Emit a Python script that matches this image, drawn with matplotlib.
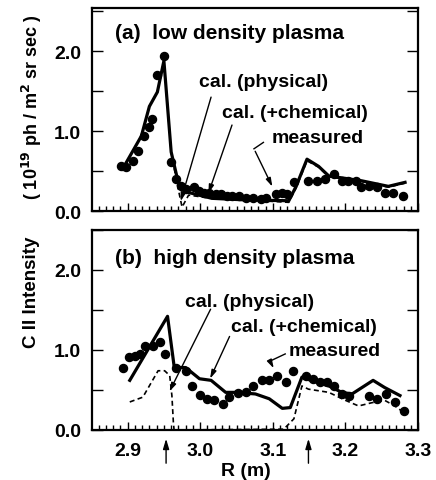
import matplotlib.pyplot as plt
from matplotlib.ticker import MultipleLocator

plt.rcParams['font.family'] = ['Liberation Sans', 'DejaVu Sans']
plt.rcParams['font.weight'] = 'bold'

# (a) low density plasma
a_chem_r = [2.893, 2.919, 2.930, 2.941, 2.950, 2.960, 2.971, 2.981, 3.016, 3.063,
            3.122, 3.132, 3.147, 3.163, 3.177, 3.222, 3.259, 3.282]
a_chem_i = [0.525, 0.94, 1.31, 1.49, 1.88, 0.74, 0.31, 0.24, 0.16, 0.14,
            0.13, 0.31, 0.65, 0.56, 0.44, 0.38, 0.31, 0.36]
a_phys_r = [2.893, 2.919, 2.930, 2.941, 2.950, 2.960, 2.968, 2.975, 2.984, 3.016,
            3.063, 3.122, 3.132, 3.147, 3.163, 3.177, 3.222, 3.259, 3.282]
a_phys_i = [0.525, 0.94, 1.31, 1.49, 1.88, 0.74, 0.35, 0.05, 0.20, 0.16,
            0.14, 0.11, 0.29, 0.63, 0.55, 0.43, 0.37, 0.30, 0.35]
a_meas_r = [2.891, 2.898, 2.907, 2.915, 2.922, 2.929, 2.934, 2.940, 2.950, 2.960,
            2.967, 2.974, 2.980, 2.992, 2.999, 3.005, 3.012, 3.022, 3.028, 3.037,
            3.044, 3.053, 3.063, 3.072, 3.083, 3.090, 3.104, 3.113, 3.120, 3.129,
            3.149, 3.161, 3.172, 3.184, 3.195, 3.204, 3.215, 3.222, 3.232, 3.243,
            3.254, 3.266, 3.279]
a_meas_i = [0.567, 0.546, 0.629, 0.754, 0.94, 1.05, 1.15, 1.70, 1.94, 0.61,
            0.40, 0.32, 0.275, 0.30, 0.25, 0.23, 0.23, 0.21, 0.21, 0.19,
            0.19, 0.19, 0.17, 0.17, 0.15, 0.16, 0.21, 0.23, 0.21, 0.36,
            0.38, 0.38, 0.40, 0.46, 0.38, 0.38, 0.38, 0.30, 0.32, 0.30,
            0.23, 0.23, 0.19]

# (b) high density plasma
b_chem_r = [2.903, 2.955, 2.964, 2.971, 2.980, 2.999, 3.015, 3.035, 3.049, 3.076,
            3.095, 3.113, 3.124, 3.140, 3.149, 3.177, 3.195, 3.209, 3.238, 3.254, 3.275]
b_chem_i = [0.62, 1.42, 0.80, 0.78, 0.78, 0.64, 0.62, 0.47, 0.47, 0.45,
            0.39, 0.27, 0.28, 0.66, 0.63, 0.55, 0.47, 0.45, 0.62, 0.53, 0.43]
b_phys_r = [2.903, 2.921, 2.942, 2.951, 2.958, 2.961, 2.963, 2.964, 3.115, 3.129,
            3.140, 3.149, 3.177, 3.200, 3.218, 3.236, 3.254, 3.268, 3.277]
b_phys_i = [0.35, 0.41, 0.74, 0.74, 0.68, 0.43, 0.10, 0.0, 0.01, 0.14,
            0.55, 0.51, 0.47, 0.37, 0.30, 0.34, 0.37, 0.30, 0.24]
b_meas_r = [2.893, 2.902, 2.910, 2.917, 2.924, 2.935, 2.944, 2.952, 2.967, 2.980,
            2.989, 3.000, 3.010, 3.019, 3.031, 3.040, 3.052, 3.063, 3.073, 3.085,
            3.095, 3.106, 3.118, 3.128, 3.145, 3.155, 3.165, 3.174, 3.184, 3.195,
            3.205, 3.232, 3.243, 3.256, 3.268, 3.281]
b_meas_i = [0.77, 0.91, 0.93, 0.95, 1.05, 1.05, 1.10, 0.95, 0.78, 0.74,
            0.55, 0.44, 0.39, 0.375, 0.325, 0.41, 0.46, 0.47, 0.55, 0.62,
            0.62, 0.68, 0.60, 0.74, 0.68, 0.64, 0.60, 0.60, 0.55, 0.45,
            0.43, 0.43, 0.39, 0.45, 0.35, 0.24]

# marker arrows under the R axis
arrow_r = [2.953, 3.149]

fig = plt.figure(figsize=(4.36, 4.81), dpi=100)
ax1 = fig.add_axes([0.211, 0.559, 0.748, 0.422])
ax2 = fig.add_axes([0.211, 0.104, 0.748, 0.416])

fs = 14
panels = [
    (ax1, a_chem_r, a_chem_i, a_phys_r, a_phys_i, a_meas_r, a_meas_i, 2.54),
    (ax2, b_chem_r, b_chem_i, b_phys_r, b_phys_i, b_meas_r, b_meas_i, 2.5),
]
for ax, cr, ci, pr, pi, mr, mi, ytop in panels:
    ax.plot(pr, pi, color='black', lw=1.2, ls=(0, (3, 2)))
    ax.plot(cr, ci, color='black', lw=2.3)
    ax.plot(mr, mi, 'o', color='black', ms=5.8)
    ax.set_xlim(2.851, 3.3)
    ax.set_ylim(0, ytop)
    ax.xaxis.set_major_locator(MultipleLocator(0.1))
    ax.xaxis.set_minor_locator(MultipleLocator(0.01))
    ax.yaxis.set_major_locator(MultipleLocator(1.0))
    ax.yaxis.set_minor_locator(MultipleLocator(0.5))
    ax.tick_params(axis='y', which='both', direction='in', left=True, right=True,
                   length=8, width=1, labelsize=fs, pad=8)
    ax.tick_params(axis='x', which='major', direction='in', length=6, width=1,
                   labelsize=fs, pad=9)
    ax.tick_params(axis='x', which='minor', direction='in', length=3.5, width=1)
    ax.yaxis.set_major_formatter(lambda v, p: f'{v:.1f}')
    for sp in ax.spines.values():
        sp.set_linewidth(1.6)

ax1.tick_params(axis='x', labelbottom=False)

# panel (a) labels
ax1.text(2.883, 2.24, '(a)  low density plasma', fontsize=15, va='center')
ax1.text(2.998, 1.625, 'cal. (physical)', fontsize=14, va='center')
ax1.text(3.030, 1.24, 'cal. (+chemical)', fontsize=14, va='center')
ax1.text(3.098, 0.925, 'measured', fontsize=14, va='center')
arw = dict(arrowstyle='-|>,head_length=0.5,head_width=0.15', color='black', lw=1)
ax1.annotate('', xy=(2.972, 0.09), xytext=(3.016, 1.46), arrowprops=arw)
ax1.annotate('', xy=(3.010, 0.19), xytext=(3.045, 1.11), arrowprops=arw)
ax1.plot([3.087, 3.074], [0.86, 0.78], color='black', lw=1)
ax1.annotate('', xy=(3.101, 0.275), xytext=(3.074, 0.78), arrowprops=arw)

# panel (b) labels
ax2.text(2.883, 2.16, '(b)  high density plasma', fontsize=15, va='center')
ax2.text(2.979, 1.61, 'cal. (physical)', fontsize=14, va='center')
ax2.text(3.042, 1.29, 'cal. (+chemical)', fontsize=14, va='center')
ax2.text(3.122, 0.99, 'measured', fontsize=14, va='center')
ax2.annotate('', xy=(2.956, 0.45), xytext=(3.016, 1.54), arrowprops=arw)
ax2.annotate('', xy=(3.012, 0.61), xytext=(3.042, 1.20), arrowprops=arw)
ax2.plot([3.117, 3.096], [0.95, 0.86], color='black', lw=1)
ax2.annotate('', xy=(3.103, 0.74), xytext=(3.096, 0.86), arrowprops=arw)

for r in arrow_r:
    ax2.annotate('', xy=(r, -0.03), xytext=(r, -0.18),
                 xycoords=('data', 'axes fraction'),
                 textcoords=('data', 'axes fraction'),
                 arrowprops=dict(arrowstyle='-|>,head_length=0.6,head_width=0.18',
                                 color='black', lw=1), annotation_clip=False)

fig.text(0.564, 0.019, 'R (m)', fontsize=fs, ha='center', va='center')
fig.text(0.073, 0.778, '( 10$^{\\mathbf{19}}$ ph / m$^{\\mathbf{2}}$ sr sec )',
         fontsize=13, rotation=90, ha='center', va='center')
fig.text(0.073, 0.392, 'C II Intensity', fontsize=13.5, rotation=90,
         ha='center', va='center')

fig.savefig('out.png', dpi=100)
